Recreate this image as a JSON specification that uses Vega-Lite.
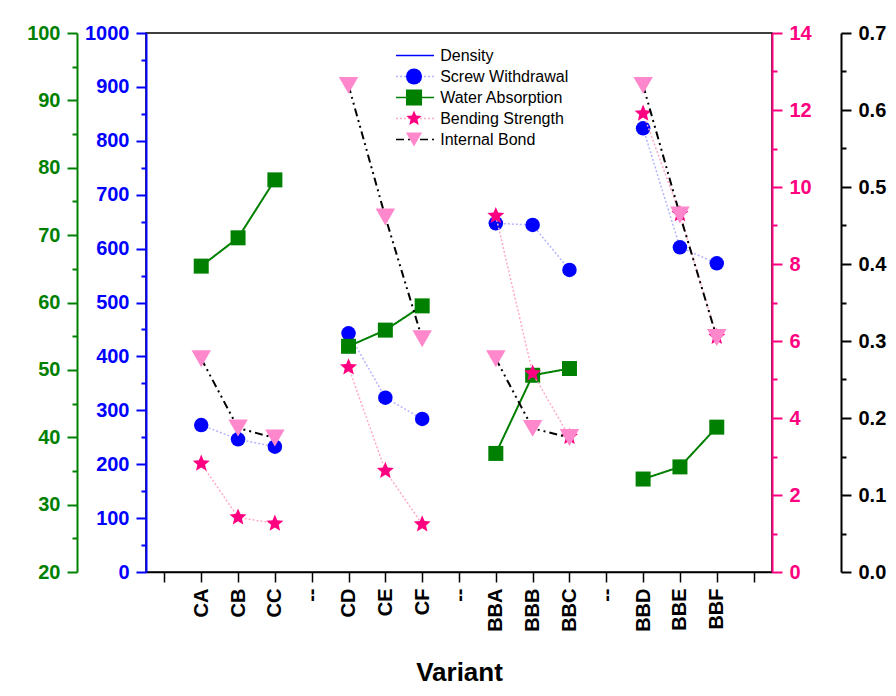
{
  "$schema": "https://vega.github.io/schema/vega-lite/v6.json",
  "width": 626,
  "height": 539,
  "autosize": {"type": "none"},
  "padding": {"left": 146, "top": 33, "right": 124, "bottom": 124},
  "background": "white",
  "config": {
    "view": {"stroke": "black", "strokeWidth": 1.5},
    "axis": {"grid": false, "labelFont": "Liberation Sans", "labelFontWeight": "bold", "labelFontSize": 20, "titleFont": "Liberation Sans"},
    "legend": {"labelFont": "Liberation Sans", "labelFontSize": 16, "labelColor": "black"}
  },
  "data": {"values": [
    {"v": "CA", "g": "1", "sw": 272.7, "wa": 65.4, "bs": 2.82, "ib": 0.277},
    {"v": "CB", "g": "1", "sw": 246.2, "wa": 69.6, "bs": 1.42, "ib": 0.187},
    {"v": "CC", "g": "1", "sw": 232.5, "wa": 78.2, "bs": 1.26, "ib": 0.174},
    {"v": "CD", "g": "2", "sw": 442.9, "wa": 53.5, "bs": 5.32, "ib": 0.632},
    {"v": "CE", "g": "2", "sw": 323.4, "wa": 55.9, "bs": 2.63, "ib": 0.461},
    {"v": "CF", "g": "2", "sw": 283.9, "wa": 59.5, "bs": 1.24, "ib": 0.303},
    {"v": "BBA", "g": "3", "sw": 646.9, "wa": 37.6, "bs": 9.25, "ib": 0.277},
    {"v": "BBB", "g": "3", "sw": 643.8, "wa": 49.2, "bs": 5.16, "ib": 0.1865},
    {"v": "BBC", "g": "3", "sw": 560.3, "wa": 50.2, "bs": 3.51, "ib": 0.1746},
    {"v": "BBD", "g": "4", "sw": 823.2, "wa": 33.8, "bs": 11.91, "ib": 0.632},
    {"v": "BBE", "g": "4", "sw": 602.4, "wa": 35.6, "bs": 9.30, "ib": 0.4637},
    {"v": "BBF", "g": "4", "sw": 572.7, "wa": 41.5, "bs": 6.11, "ib": 0.3045}
  ]},
  "encoding": {
    "x": {
      "field": "v", "type": "nominal",
      "scale": {"type": "point", "padding": 0.5, "domain": ["a0", "CA", "CB", "CC", "s1", "CD", "CE", "CF", "s2", "BBA", "BBB", "BBC", "s3", "BBD", "BBE", "BBF", "a1"]},
      "axis": {
        "orient": "bottom",
        "title": "Variant", "titleFontSize": 26, "titleFontWeight": "bold", "titleColor": "black", "titlePadding": 28,
        "labelAngle": -90, "labelExpr": "slice(datum.value,0,1) == 's' ? '--' : (slice(datum.value,0,1) == 'a' ? '' : datum.value)",
        "labelColor": "black", "labelPadding": 6, "labelOverlap": false,
        "tickSize": 10, "tickWidth": 1.5, "tickColor": "black", "domainColor": "black", "domainWidth": 1.5
      }
    }
  },
  "layer": [
    {
      "mark": {"type": "point", "opacity": 0, "size": 0},
      "encoding": {
        "y": {"field": "sw", "type": "quantitative", "scale": {"domain": [0, 1000], "nice": false, "zero": false},
          "axis": {"orient": "left", "offset": 0, "title": null, "labels": false, "domain": false,
            "values": [50, 150, 250, 350, 450, 550, 650, 750, 850, 950],
            "tickSize": 5, "tickColor": "#0000FF", "tickWidth": 2}}
      }
    },
    {
      "mark": {"type": "point", "opacity": 0, "size": 0},
      "encoding": {
        "y": {"field": "wa", "type": "quantitative", "scale": {"domain": [20, 100], "nice": false, "zero": false},
          "axis": {"orient": "left", "offset": 69, "title": null, "labels": false, "domain": false,
            "values": [25, 35, 45, 55, 65, 75, 85, 95],
            "tickSize": 5, "tickColor": "#008000", "tickWidth": 2}}
      }
    },
    {
      "mark": {"type": "point", "opacity": 0, "size": 0},
      "encoding": {
        "y": {"field": "bs", "type": "quantitative", "scale": {"domain": [0, 14], "nice": false, "zero": false},
          "axis": {"orient": "right", "offset": 0, "title": null, "labels": false, "domain": false,
            "values": [1, 3, 5, 7, 9, 11, 13],
            "tickSize": 5, "tickColor": "#FF0080", "tickWidth": 2}}
      }
    },
    {
      "mark": {"type": "point", "opacity": 0, "size": 0},
      "encoding": {
        "y": {"field": "ib", "type": "quantitative", "scale": {"domain": [0, 0.7], "nice": false, "zero": false},
          "axis": {"orient": "right", "offset": 69, "title": null, "labels": false, "domain": false,
            "values": [0.05, 0.15, 0.25, 0.35, 0.45, 0.55, 0.65],
            "tickSize": 5, "tickColor": "#000000", "tickWidth": 2}}
      }
    },
    {
      "encoding": {
        "y": {"field": "sw", "type": "quantitative", "scale": {"domain": [0, 1000], "nice": false, "zero": false},
          "axis": {"orient": "left", "offset": 0, "title": null, "format": "d", "labelOverlap": false,
            "values": [0, 100, 200, 300, 400, 500, 600, 700, 800, 900, 1000],
            "tickSize": 10, "labelColor": "#0000FF", "tickColor": "#0000FF", "domainColor": "#0000FF", "domainWidth": 2, "tickWidth": 2, "labelPadding": 7}}
      },
      "layer": [
        {"mark": {"type": "line", "strokeCap": "butt", "strokeWidth": 1.5},
          "encoding": {
            "detail": {"field": "g"},
            "stroke": {"datum": "L1", "scale": {"domain": ["L0", "L1", "L2", "L3", "L4"], "range": ["#0000FF", "#B4B4FF", "#008000", "#FFAAC8", "#000000"]},
              "legend": {"orient": "none", "legendX": 249, "legendY": 13, "title": null, "symbolType": "stroke", "symbolSize": 1444, "symbolStrokeWidth": 1.5, "clipHeight": 19, "rowPadding": 2, "padding": 0, "labelExpr": "''", "labelOffset": 0}},
            "strokeDash": {"datum": "L1", "scale": {"domain": ["L0", "L1", "L2", "L3", "L4"], "range": [[1, 0], [2, 2], [1, 0], [2, 2], [8, 4, 2, 4, 2, 4]]}}
          }},
        {"mark": {"type": "point", "filled": true, "opacity": 1, "strokeWidth": 0, "size": 210},
          "encoding": {
            "fill": {"datum": "Screw Withdrawal", "scale": {"domain": ["Density", "Screw Withdrawal", "Water Absorption", "Bending Strength", "Internal Bond"], "range": ["transparent", "#0000FF", "#008000", "#FF0080", "#FF88CC"]},
              "legend": {"orient": "none", "legendX": 259.5, "legendY": 13, "title": null, "symbolSize": 260, "clipHeight": 19, "rowPadding": 2, "padding": 0, "labelOffset": 17.7, "symbolStrokeWidth": 0}},
            "shape": {"datum": "Screw Withdrawal", "scale": {"domain": ["Density", "Screw Withdrawal", "Water Absorption", "Bending Strength", "Internal Bond"], "range": ["circle", "circle", "square", "M0,-1L0.2645,-0.3641L0.9511,-0.309L0.428,0.1391L0.5878,0.809L0,0.45L-0.5878,0.809L-0.428,0.1391L-0.9511,-0.309L-0.2645,-0.3641Z", "triangle-down"]}}
          }}
      ]
    },
    {
      "encoding": {
        "y": {"field": "wa", "type": "quantitative", "scale": {"domain": [20, 100], "nice": false, "zero": false},
          "axis": {"orient": "left", "offset": 69, "title": null, "format": "d", "labelOverlap": false,
            "values": [20, 30, 40, 50, 60, 70, 80, 90, 100],
            "tickSize": 10, "labelColor": "#008000", "tickColor": "#008000", "domainColor": "#008000", "domainWidth": 2, "tickWidth": 2, "labelPadding": 7}}
      },
      "layer": [
        {"mark": {"type": "line", "strokeCap": "butt", "strokeWidth": 2},
          "encoding": {
            "detail": {"field": "g"},
            "stroke": {"datum": "L2", "scale": {"domain": ["L0", "L1", "L2", "L3", "L4"], "range": ["#0000FF", "#B4B4FF", "#008000", "#FFAAC8", "#000000"]}},
            "strokeDash": {"datum": "L2", "scale": {"domain": ["L0", "L1", "L2", "L3", "L4"], "range": [[1, 0], [2, 2], [1, 0], [2, 2], [8, 4, 2, 4, 2, 4]]}}
          }},
        {"mark": {"type": "point", "filled": true, "opacity": 1, "strokeWidth": 0, "size": 225},
          "encoding": {
            "fill": {"datum": "Water Absorption", "scale": {"domain": ["Density", "Screw Withdrawal", "Water Absorption", "Bending Strength", "Internal Bond"], "range": ["transparent", "#0000FF", "#008000", "#FF0080", "#FF88CC"]}},
            "shape": {"datum": "Water Absorption", "scale": {"domain": ["Density", "Screw Withdrawal", "Water Absorption", "Bending Strength", "Internal Bond"], "range": ["circle", "circle", "square", "M0,-1L0.2645,-0.3641L0.9511,-0.309L0.428,0.1391L0.5878,0.809L0,0.45L-0.5878,0.809L-0.428,0.1391L-0.9511,-0.309L-0.2645,-0.3641Z", "triangle-down"]}}
          }}
      ]
    },
    {
      "encoding": {
        "y": {"field": "bs", "type": "quantitative", "scale": {"domain": [0, 14], "nice": false, "zero": false},
          "axis": {"orient": "right", "offset": 0, "title": null, "format": "d", "labelOverlap": false,
            "values": [0, 2, 4, 6, 8, 10, 12, 14],
            "tickSize": 10, "labelColor": "#FF0080", "tickColor": "#FF0080", "domainColor": "#FF0080", "domainWidth": 2, "tickWidth": 2, "labelPadding": 7}}
      },
      "layer": [
        {"mark": {"type": "line", "strokeCap": "butt", "strokeWidth": 1.5},
          "encoding": {
            "detail": {"field": "g"},
            "stroke": {"datum": "L3", "scale": {"domain": ["L0", "L1", "L2", "L3", "L4"], "range": ["#0000FF", "#B4B4FF", "#008000", "#FFAAC8", "#000000"]}},
            "strokeDash": {"datum": "L3", "scale": {"domain": ["L0", "L1", "L2", "L3", "L4"], "range": [[1, 0], [2, 2], [1, 0], [2, 2], [8, 4, 2, 4, 2, 4]]}}
          }},
        {"mark": {"type": "point", "filled": true, "opacity": 1, "strokeWidth": 0, "size": 320},
          "encoding": {
            "fill": {"datum": "Bending Strength", "scale": {"domain": ["Density", "Screw Withdrawal", "Water Absorption", "Bending Strength", "Internal Bond"], "range": ["transparent", "#0000FF", "#008000", "#FF0080", "#FF88CC"]}},
            "shape": {"datum": "Bending Strength", "scale": {"domain": ["Density", "Screw Withdrawal", "Water Absorption", "Bending Strength", "Internal Bond"], "range": ["circle", "circle", "square", "M0,-1L0.2645,-0.3641L0.9511,-0.309L0.428,0.1391L0.5878,0.809L0,0.45L-0.5878,0.809L-0.428,0.1391L-0.9511,-0.309L-0.2645,-0.3641Z", "triangle-down"]}}
          }}
      ]
    },
    {
      "encoding": {
        "y": {"field": "ib", "type": "quantitative", "scale": {"domain": [0, 0.7], "nice": false, "zero": false},
          "axis": {"orient": "right", "offset": 69, "title": null, "format": ".1f", "labelOverlap": false,
            "values": [0, 0.1, 0.2, 0.3, 0.4, 0.5, 0.6, 0.7],
            "tickSize": 10, "labelColor": "#000000", "tickColor": "#000000", "domainColor": "#000000", "domainWidth": 2, "tickWidth": 2, "labelPadding": 7}}
      },
      "layer": [
        {"mark": {"type": "line", "strokeCap": "butt", "strokeWidth": 2},
          "encoding": {
            "detail": {"field": "g"},
            "stroke": {"datum": "L4", "scale": {"domain": ["L0", "L1", "L2", "L3", "L4"], "range": ["#0000FF", "#B4B4FF", "#008000", "#FFAAC8", "#000000"]}},
            "strokeDash": {"datum": "L4", "scale": {"domain": ["L0", "L1", "L2", "L3", "L4"], "range": [[1, 0], [2, 2], [1, 0], [2, 2], [8, 4, 2, 4, 2, 4]]}}
          }},
        {"mark": {"type": "point", "filled": true, "opacity": 1, "strokeWidth": 0, "size": 380},
          "encoding": {
            "fill": {"datum": "Internal Bond", "scale": {"domain": ["Density", "Screw Withdrawal", "Water Absorption", "Bending Strength", "Internal Bond"], "range": ["transparent", "#0000FF", "#008000", "#FF0080", "#FF88CC"]}},
            "shape": {"datum": "Internal Bond", "scale": {"domain": ["Density", "Screw Withdrawal", "Water Absorption", "Bending Strength", "Internal Bond"], "range": ["circle", "circle", "square", "M0,-1L0.2645,-0.3641L0.9511,-0.309L0.428,0.1391L0.5878,0.809L0,0.45L-0.5878,0.809L-0.428,0.1391L-0.9511,-0.309L-0.2645,-0.3641Z", "triangle-down"]}}
          }}
      ]
    }
  ],
  "resolve": {"scale": {"y": "independent"}}
}
